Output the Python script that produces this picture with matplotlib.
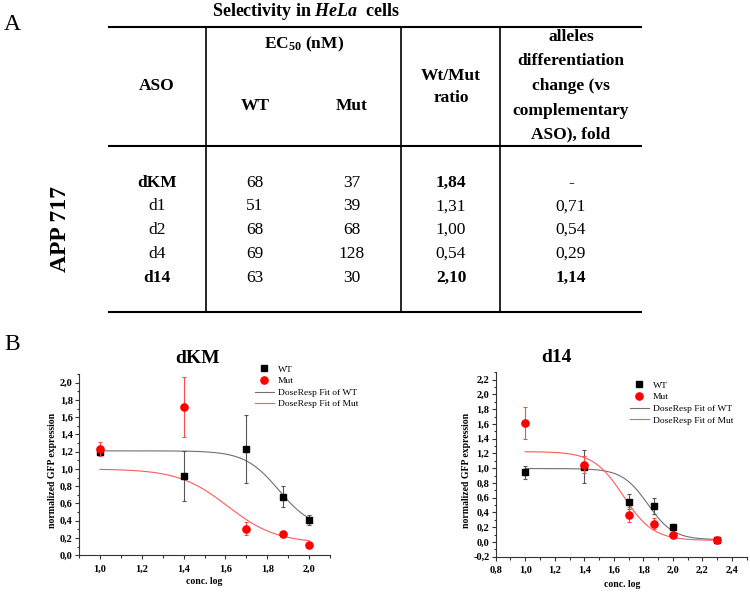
import numpy as np
import matplotlib
matplotlib.use("Agg")
import matplotlib.pyplot as plt
from matplotlib.ticker import MultipleLocator, FuncFormatter
from matplotlib.lines import Line2D

plt.rcParams['font.family'] = ['Liberation Serif', 'DejaVu Serif']
plt.rcParams['mathtext.fontset'] = 'custom'
plt.rcParams['mathtext.rm'] = 'Liberation Serif'
plt.rcParams['mathtext.it'] = 'Liberation Serif:italic'
plt.rcParams['mathtext.bf'] = 'Liberation Serif:bold'
plt.rcParams['mathtext.bfit'] = 'Liberation Serif:italic:bold'

# ---------------- table data ----------------
aso_names = ["dKM", "d1", "d2", "d4", "d14"]
ec50_wt = [68, 51, 68, 69, 63]
ec50_mut = [37, 39, 68, 128, 30]
wt_mut_ratio = [1.84, 1.31, 1.00, 0.54, 2.10]
fold_change = [None, 0.71, 0.54, 0.29, 1.14]
bold_rows = ["dKM", "d14"]

# ---------------- dKM data ----------------
dkm_x = [1.0, 1.4, 1.7, 1.875, 2.0]
dkm_wt = [1.20, 0.92, 1.23, 0.68, 0.41]
dkm_wt_err = [0.03, 0.29, 0.395, 0.12, 0.06]
dkm_mut = [1.235, 1.715, 0.31, 0.245, 0.12]
dkm_mut_err = [0.08, 0.345, 0.08, 0.02, 0.02]
# DoseResp fit parameters: (top, bottom, logx0, hill)
dkm_fit_wt = (1.21, 0.30, 1.855, 5.38)
dkm_fit_mut = (1.00, 0.14, 1.61, 3.7)

# ---------------- d14 data ----------------
d14_x = [1.0, 1.4, 1.7, 1.875, 2.0, 2.3]
d14_wt = [0.945, 1.02, 0.545, 0.485, 0.205, 0.03]
d14_wt_err = [0.085, 0.22, 0.105, 0.105, 0.045, 0.015]
d14_mut = [1.61, 1.05, 0.37, 0.25, 0.10, 0.02]
d14_mut_err = [0.22, 0.12, 0.10, 0.08, 0.02, 0.015]
d14_fit_wt = (0.995, 0.03, 1.83, 5.0)
d14_fit_mut = (1.225, 0.02, 1.665, 4.3)

legend_labels = ["WT", "Mut", "DoseResp Fit of WT", "DoseResp Fit of Mut"]


def dose_resp(x, p):
    top, bottom, logx0, hill = p
    return bottom + (top - bottom) / (1 + 10 ** ((x - logx0) * hill))


fig = plt.figure(figsize=(7.5, 5.92), dpi=100)

# ---------------- panel A: table (pixel coordinate overlay) ----------------
ax0 = fig.add_axes([0, 0, 1, 1])
ax0.set_xlim(0, 750)
ax0.set_ylim(592, 0)
ax0.axis('off')

ax0.hlines([26.5, 145.5, 312], 108, 642, color='black', lw=1.5)
ax0.vlines([205.5, 400.5, 500], 26.5, 312, color='black', lw=1.2)

ax0.text(12, 24, "A", fontsize=17, ha='center', va='center')
ax0.text(306, 11, r"Selectivity in $\mathbfit{HeLa}$  cells", fontsize=13,
         fontweight='bold', ha='center', va='center')
ax0.text(60, 229, "APP 717", rotation=90, fontsize=17, fontweight='bold',
         ha='center', va='center')

hfs = 12.5
ax0.text(157, 86.5, "ASO", fontsize=hfs, fontweight='bold', ha='center', va='center')
ax0.text(304, 44, r"EC$_{\mathbf{50}}$ (nM)", fontsize=hfs, fontweight='bold',
         ha='center', va='center')
ax0.text(255, 106, "WT", fontsize=hfs, fontweight='bold', ha='center', va='center')
ax0.text(352, 106, "Mut", fontsize=hfs, fontweight='bold', ha='center', va='center')
ax0.text(451, 76, "Wt/Mut", fontsize=hfs, fontweight='bold', ha='center', va='center')
ax0.text(451, 98, "ratio", fontsize=hfs, fontweight='bold', ha='center', va='center')
for txt, yy in zip(["alleles", "differentiation", "change (vs", "complementary",
                    "ASO), fold"], [37, 61, 86, 111, 134]):
    ax0.text(571, yy, txt, fontsize=hfs, fontweight='bold', ha='center', va='center')

row_y = [183, 206.5, 230, 254, 277.7]
col_x = [157, 255, 352, 451, 571]
rfs = 12.5


def fmt_comma(v):
    return "-" if v is None else f"{v:.2f}".replace('.', ',')


for i, name in enumerate(aso_names):
    b = name in bold_rows
    vals = [name, str(ec50_wt[i]), str(ec50_mut[i]),
            fmt_comma(wt_mut_ratio[i]), fmt_comma(fold_change[i])]
    weights = ['bold' if b else 'normal', 'normal', 'normal',
               'bold' if b else 'normal',
               'bold' if (b and fold_change[i] is not None) else 'normal']
    for x, v, w in zip(col_x, vals, weights):
        ax0.text(x, row_y[i], v, fontsize=rfs, fontweight=w, ha='center', va='center')

ax0.text(12, 345, "B", fontsize=17, ha='center', va='center')

# ---------------- panel B: dose-response plots ----------------
grey_fit = '#707070'
red_fit = '#ff5a5a'
comma_fmt = FuncFormatter(lambda v, pos: f"{v:.1f}".replace('.', ','))


def style_axes(ax):
    for s in ['top', 'right']:
        ax.spines[s].set_visible(False)
    for s in ['left', 'bottom']:
        ax.spines[s].set_linewidth(0.8)
        ax.spines[s].set_color('#333333')
    ax.xaxis.set_major_locator(MultipleLocator(0.2))
    ax.xaxis.set_minor_locator(MultipleLocator(0.1))
    ax.yaxis.set_major_locator(MultipleLocator(0.2))
    ax.yaxis.set_minor_locator(MultipleLocator(0.1))
    ax.xaxis.set_major_formatter(comma_fmt)
    ax.yaxis.set_major_formatter(comma_fmt)
    ax.tick_params(which='both', direction='out', width=0.8, colors='#333333',
                   labelcolor='black', labelsize=7.5)
    ax.tick_params(which='major', length=3)
    ax.tick_params(which='minor', length=1.8)
    ax.tick_params(axis='x', pad=3.5)
    ax.tick_params(axis='y', pad=1.5)


def draw_panel(ax, x, wt, wt_err, mut, mut_err, fit_wt, fit_mut):
    xf = np.linspace(min(x), max(x), 300)
    ax.plot(xf, dose_resp(xf, fit_wt), color=grey_fit, lw=0.8, zorder=2)
    ax.plot(xf, dose_resp(xf, fit_mut), color=red_fit, lw=0.8, zorder=2)
    ax.errorbar(x, wt, yerr=wt_err, fmt='s', color='black', ecolor='#555555',
                elinewidth=0.8, capsize=1.5, capthick=0.8, ms=4.8, zorder=3)
    ax.errorbar(x, mut, yerr=mut_err, fmt='o', color='#ff0000', ecolor='#ff4a4a',
                elinewidth=0.8, capsize=1.5, capthick=0.8, ms=5.2, zorder=4)


def add_legend(ax, anchor):
    handles = [Line2D([], [], ls='none', marker='s', color='black', ms=4.8),
               Line2D([], [], ls='none', marker='o', color='#ff0000', ms=5.2),
               Line2D([], [], color=grey_fit, lw=0.8),
               Line2D([], [], color=red_fit, lw=0.8)]
    ax.legend(handles, legend_labels, loc='upper left', bbox_to_anchor=anchor,
              frameon=False, fontsize=6.8, borderpad=0, borderaxespad=0,
              handlelength=2.0, handletextpad=0.4, labelspacing=0.32)


ax1 = fig.add_axes([79 / 750, (592 - 555.3) / 592, 251 / 750, 181.3 / 592])
draw_panel(ax1, dkm_x, dkm_wt, dkm_wt_err, dkm_mut, dkm_mut_err, dkm_fit_wt, dkm_fit_mut)
ax1.set_xlim(0.9, 2.1)
ax1.set_ylim(0.0, 2.1)
style_axes(ax1)
add_legend(ax1, (0.701, 1.05))
ax1.text(0.474, 1.088, "dKM", transform=ax1.transAxes, fontsize=14,
         fontweight='bold', ha='center', va='center')
ax1.set_xlabel("conc. log", fontsize=7, fontweight='bold', va='center')
ax1.xaxis.set_label_coords(0.5, -0.147)
ax1.set_ylabel("normalized GFP expression", fontsize=7, fontweight='bold', va='center')
ax1.yaxis.set_label_coords(-0.106, 0.47)

ax2 = fig.add_axes([495.7 / 750, (592 - 556.7) / 592, 251 / 750, 184.4 / 592])
draw_panel(ax2, d14_x, d14_wt, d14_wt_err, d14_mut, d14_mut_err, d14_fit_wt, d14_fit_mut)
ax2.set_xlim(0.8, 2.5)
ax2.set_ylim(-0.2, 2.3)
style_axes(ax2)
add_legend(ax2, (0.535, 0.952))
ax2.text(0.243, 1.078, "d14", transform=ax2.transAxes, fontsize=14,
         fontweight='bold', ha='center', va='center')
ax2.set_xlabel("conc. log", fontsize=7, fontweight='bold', va='center')
ax2.xaxis.set_label_coords(0.502, -0.153)
ax2.set_ylabel("normalized GFP expression", fontsize=7, fontweight='bold', va='center')
ax2.yaxis.set_label_coords(-0.118, 0.47)

for ax in (ax1, ax2):
    plt.setp(ax.get_xticklabels(), fontweight='bold')
    plt.setp(ax.get_yticklabels(), fontweight='bold')

fig.savefig("out.png", dpi=100)
